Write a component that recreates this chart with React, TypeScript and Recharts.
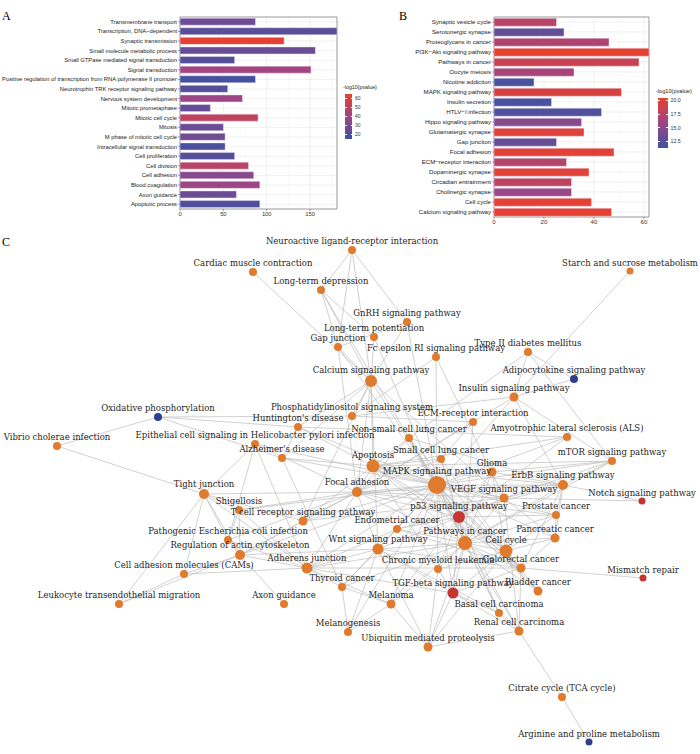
import React from 'react';
import {
  BarChart, Bar, XAxis, YAxis, CartesianGrid, Cell, ReferenceArea,
  ScatterChart, Scatter,
} from 'recharts';

// ---------------- Panel A (GO terms) ----------------
const goTerms = [
  'Transmembrane transport', 'Transcription, DNA\u2212dependent', 'Synaptic transmission',
  'Small molecule metabolic process', 'Small GTPase mediated signal transduction', 'Signal transduction',
  'Positive regulation of transcription from RNA polymerase II promoter', 'Neurotrophin TRK receptor signaling pathway',
  'Nervous system development', 'Mitotic prometaphase', 'Mitotic cell cycle', 'Mitosis',
  'M phase of mitotic cell cycle', 'Intracellular signal transduction', 'Cell proliferation', 'Cell division',
  'Cell adhesion', 'Blood coagulation', 'Axon guidance', 'Apoptotic process',
];
const goCounts = [87, 181, 120, 156, 63, 151, 87, 55, 72, 35, 90, 50, 52, 52, 63, 79, 85, 92, 65, 92];
const goLogP = [27, 22, 63, 26, 21, 42, 17, 21, 40, 25, 51, 27, 28, 18, 21, 49, 34, 40, 27, 20];
const goTicks = [0, 50, 100, 150];
const goMinor = [25, 75, 125, 175];
const goLegendTicks = [60, 50, 40, 30, 20];
const goRange = [14.8, 64.4];

// ---------------- Panel B (KEGG pathways) ----------------
const keggTerms = [
  'Synaptic vesicle cycle', 'Serotonergic synapse', 'Proteoglycans in cancer', 'PI3K\u2212Akt signaling pathway',
  'Pathways in cancer', 'Oocyte meiosis', 'Nicotine addiction', 'MAPK signaling pathway', 'Insulin secretion',
  'HTLV\u2212I infection', 'Hippo signaling pathway', 'Glutamatergic synapse', 'Gap junction', 'Focal adhesion',
  'ECM\u2212receptor interaction', 'Dopaminergic synapse', 'Circadian entrainment', 'Cholinergic synapse',
  'Cell cycle', 'Calcium signaling pathway',
];
const keggCounts = [25, 28, 46, 62, 58, 32, 16, 51, 23, 43, 35, 36, 25, 48, 29, 38, 31, 31, 39, 47];
const keggLogP = [17.5, 13.1, 17.0, 20.4, 18.6, 16.5, 11.8, 19.5, 11.9, 12.2, 14.8, 19.8, 13.3, 20.0, 17.2, 20.0, 17.9, 15.8, 20.2, 20.2];
const keggTicks = [0, 20, 40, 60];
const keggMinor = [10, 30, 50];
const keggLegendTicks = [20.0, 17.5, 15.0, 12.5];
const keggRange = [11.3, 20.4];

// ---------------- Panel C (network) ----------------
// [id, label, layoutX, layoutY, size, group]  group: o = orange, r = red, b = blue
const nodes: [string, string, number, number, number, string][] = [
  ['neuro', 'Neuroactive ligand-receptor interaction', 352, 250, 4, 'o'],
  ['cardiac', 'Cardiac muscle contraction', 253, 272, 4, 'o'],
  ['ltd', 'Long-term depression', 321, 290, 4, 'o'],
  ['gnrh', 'GnRH signaling pathway', 407, 322, 4, 'o'],
  ['ltp', 'Long-term potentiation', 374, 337, 4, 'o'],
  ['gap', 'Gap junction', 338, 347, 4, 'o'],
  ['fceri', 'Fc epsilon RI signaling pathway', 436, 357, 4, 'o'],
  ['calcium', 'Calcium signaling pathway', 371, 381, 6, 'o'],
  ['t2d', 'Type II diabetes mellitus', 528, 352, 4, 'o'],
  ['adipo', 'Adipocytokine signaling pathway', 574, 379, 4, 'b'],
  ['insulin', 'Insulin signaling pathway', 514, 397, 4.5, 'o'],
  ['starch', 'Starch and sucrose metabolism', 630, 271, 3.5, 'o'],
  ['pi', 'Phosphatidylinositol signaling system', 352, 416, 4, 'o'],
  ['oxphos', 'Oxidative phosphorylation', 158, 417, 4, 'b'],
  ['vibrio', 'Vibrio cholerae infection', 57, 446, 4, 'o'],
  ['hunt', "Huntington's disease", 298, 427, 4, 'o'],
  ['epith', 'Epithelial cell signaling in Helicobacter pylori infection', 255, 444, 4, 'o'],
  ['alz', "Alzheimer's disease", 282, 458, 4, 'o'],
  ['tight', 'Tight junction', 204, 494, 5, 'o'],
  ['shig', 'Shigellosis', 239, 510, 4, 'o'],
  ['tcell', 'T cell receptor signaling pathway', 303, 521, 4.5, 'o'],
  ['epec', 'Pathogenic Escherichia coli infection', 228, 540, 4, 'o'],
  ['actin', 'Regulation of actin cytoskeleton', 240, 555, 5, 'o'],
  ['adherens', 'Adherens junction', 307, 568, 5.5, 'o'],
  ['cams', 'Cell adhesion molecules (CAMs)', 184, 574, 4, 'o'],
  ['leuko', 'Leukocyte transendothelial migration', 119, 604, 4, 'o'],
  ['ecm', 'ECM-receptor interaction', 473, 422, 4, 'o'],
  ['als', 'Amyotrophic lateral sclerosis (ALS)', 567, 437, 4, 'o'],
  ['nsclc', 'Non-small cell lung cancer', 409, 438, 4, 'o'],
  ['sclc', 'Small cell lung cancer', 441, 459, 4, 'o'],
  ['apoptosis', 'Apoptosis', 373, 466, 6.5, 'o'],
  ['mtor', 'mTOR signaling pathway', 612, 461, 4, 'o'],
  ['glioma', 'Glioma', 492, 472, 4.5, 'o'],
  ['mapk', 'MAPK signaling pathway', 437, 485, 9, 'o'],
  ['erbb', 'ErbB signaling pathway', 563, 485, 5, 'o'],
  ['focal', 'Focal adhesion', 357, 492, 5, 'o'],
  ['vegf', 'VEGF signaling pathway', 504, 498, 4.5, 'o'],
  ['notch', 'Notch signaling pathway', 642, 501, 3.5, 'r'],
  ['p53', 'p53 signaling pathway', 459, 517, 6, 'r'],
  ['prostate', 'Prostate cancer', 556, 515, 4, 'o'],
  ['endometrial', 'Endometrial cancer', 397, 529, 4, 'o'],
  ['pancreatic', 'Pancreatic cancer', 555, 538, 4.5, 'o'],
  ['pic', 'Pathways in cancer', 465, 543, 7, 'o'],
  ['wnt', 'Wnt signaling pathway', 378, 549, 5.5, 'o'],
  ['cellcycle', 'Cell cycle', 506, 551, 6.5, 'o'],
  ['colorectal', 'Colorectal cancer', 521, 568, 4.5, 'o'],
  ['cml', 'Chronic myeloid leukemia', 438, 569, 4, 'o'],
  ['mismatch', 'Mismatch repair', 643, 578, 3.5, 'r'],
  ['thyroid', 'Thyroid cancer', 342, 587, 4, 'o'],
  ['axon', 'Axon guidance', 284, 604, 4, 'o'],
  ['melanoma', 'Melanoma', 391, 604, 4.5, 'o'],
  ['tgfb', 'TGF-beta signaling pathway', 453, 593, 5.5, 'r'],
  ['bladder', 'Bladder cancer', 538, 591, 4.5, 'o'],
  ['basal', 'Basal cell carcinoma', 499, 613, 4, 'o'],
  ['renal', 'Renal cell carcinoma', 519, 631, 4.5, 'o'],
  ['melanogenesis', 'Melanogenesis', 348, 632, 4, 'o'],
  ['ubiq', 'Ubiquitin mediated proteolysis', 428, 647, 4.5, 'o'],
  ['citrate', 'Citrate cycle (TCA cycle)', 562, 697, 4, 'o'],
  ['arginine', 'Arginine and proline metabolism', 589, 742, 3.5, 'b'],
];

const edges: [string, string][] = [
  ['neuro', 'ltd'], ['neuro', 'gap'], ['neuro', 'calcium'], ['neuro', 'gnrh'],
  ['cardiac', 'calcium'],
  ['ltd', 'calcium'], ['ltd', 'ltp'], ['ltd', 'mapk'], ['ltd', 'gap'],
  ['gnrh', 'calcium'], ['gnrh', 'mapk'], ['gnrh', 'gap'],
  ['ltp', 'calcium'], ['ltp', 'mapk'], ['gap', 'calcium'], ['gap', 'mapk'], ['gap', 'focal'],
  ['fceri', 'mapk'], ['fceri', 'pi'], ['fceri', 'vegf'],
  ['calcium', 'mapk'], ['calcium', 'pi'], ['calcium', 'apoptosis'], ['calcium', 'alz'], ['calcium', 'hunt'],
  ['calcium', 'wnt'], ['calcium', 'vegf'], ['calcium', 'focal'], ['calcium', 'tcell'],
  ['t2d', 'insulin'], ['t2d', 'adipo'], ['t2d', 'nsclc'], ['t2d', 'mtor'],
  ['adipo', 'insulin'], ['starch', 'insulin'],
  ['insulin', 'pi'], ['insulin', 'mtor'], ['insulin', 'mapk'], ['insulin', 'erbb'], ['insulin', 'focal'],
  ['oxphos', 'vibrio'], ['oxphos', 'hunt'], ['oxphos', 'alz'], ['oxphos', 'pi'],
  ['vibrio', 'tight'],
  ['hunt', 'alz'], ['hunt', 'apoptosis'], ['hunt', 'mapk'], ['hunt', 'als'],
  ['epith', 'tight'], ['epith', 'adherens'], ['epith', 'mapk'], ['epith', 'epec'], ['epith', 'focal'],
  ['alz', 'apoptosis'], ['alz', 'mapk'], ['alz', 'thyroid'],
  ['tight', 'shig'], ['tight', 'epec'], ['tight', 'actin'], ['tight', 'cams'], ['tight', 'leuko'],
  ['tight', 'adherens'], ['tight', 'focal'], ['tight', 'tcell'],
  ['shig', 'actin'], ['shig', 'focal'], ['shig', 'mapk'], ['shig', 'epec'], ['shig', 'adherens'],
  ['tcell', 'mapk'], ['tcell', 'actin'], ['tcell', 'apoptosis'], ['tcell', 'vegf'], ['tcell', 'focal'],
  ['epec', 'actin'], ['epec', 'adherens'], ['epec', 'focal'],
  ['actin', 'adherens'], ['actin', 'focal'], ['actin', 'leuko'], ['actin', 'cams'], ['actin', 'axon'],
  ['actin', 'mapk'], ['actin', 'wnt'],
  ['adherens', 'wnt'], ['adherens', 'pic'], ['adherens', 'thyroid'], ['adherens', 'mapk'], ['adherens', 'focal'],
  ['adherens', 'cams'], ['adherens', 'melanoma'], ['adherens', 'colorectal'], ['adherens', 'endometrial'],
  ['cams', 'leuko'],
  ['ecm', 'focal'], ['ecm', 'pic'], ['ecm', 'sclc'], ['ecm', 'pi'],
  ['als', 'apoptosis'], ['als', 'mapk'], ['als', 'p53'],
  ['nsclc', 'mapk'], ['nsclc', 'apoptosis'], ['nsclc', 'erbb'], ['nsclc', 'p53'], ['nsclc', 'pic'],
  ['nsclc', 'focal'], ['nsclc', 'cellcycle'],
  ['sclc', 'pic'], ['sclc', 'apoptosis'], ['sclc', 'focal'], ['sclc', 'p53'], ['sclc', 'cellcycle'],
  ['apoptosis', 'mapk'], ['apoptosis', 'p53'], ['apoptosis', 'pic'], ['apoptosis', 'vegf'], ['apoptosis', 'focal'],
  ['apoptosis', 'erbb'], ['apoptosis', 'colorectal'], ['apoptosis', 'cml'], ['apoptosis', 'mtor'],
  ['mtor', 'erbb'], ['mtor', 'vegf'], ['mtor', 'mapk'], ['mtor', 'glioma'], ['mtor', 'pic'],
  ['glioma', 'mapk'], ['glioma', 'p53'], ['glioma', 'pic'], ['glioma', 'erbb'], ['glioma', 'cellcycle'],
  ['mapk', 'erbb'], ['mapk', 'vegf'], ['mapk', 'p53'], ['mapk', 'pic'], ['mapk', 'wnt'], ['mapk', 'focal'],
  ['mapk', 'endometrial'], ['mapk', 'prostate'], ['mapk', 'pancreatic'], ['mapk', 'colorectal'], ['mapk', 'cml'],
  ['mapk', 'melanoma'], ['mapk', 'tgfb'], ['mapk', 'renal'], ['mapk', 'bladder'], ['mapk', 'thyroid'],
  ['mapk', 'melanogenesis'], ['mapk', 'cellcycle'], ['mapk', 'basal'],
  ['erbb', 'vegf'], ['erbb', 'pic'], ['erbb', 'prostate'], ['erbb', 'pancreatic'], ['erbb', 'focal'],
  ['erbb', 'endometrial'], ['erbb', 'colorectal'], ['erbb', 'notch'],
  ['focal', 'wnt'], ['focal', 'pic'], ['focal', 'vegf'], ['focal', 'p53'], ['focal', 'prostate'],
  ['vegf', 'pic'], ['vegf', 'pancreatic'], ['vegf', 'p53'], ['vegf', 'renal'], ['vegf', 'notch'],
  ['p53', 'pic'], ['p53', 'cellcycle'], ['p53', 'colorectal'], ['p53', 'cml'], ['p53', 'bladder'],
  ['p53', 'basal'], ['p53', 'prostate'], ['p53', 'melanoma'], ['p53', 'endometrial'], ['p53', 'wnt'], ['p53', 'tgfb'],
  ['prostate', 'pic'], ['prostate', 'cellcycle'], ['prostate', 'pancreatic'],
  ['endometrial', 'pic'], ['endometrial', 'wnt'], ['endometrial', 'colorectal'],
  ['pancreatic', 'pic'], ['pancreatic', 'cellcycle'], ['pancreatic', 'colorectal'],
  ['pic', 'wnt'], ['pic', 'cellcycle'], ['pic', 'colorectal'], ['pic', 'cml'], ['pic', 'melanoma'], ['pic', 'tgfb'],
  ['pic', 'bladder'], ['pic', 'basal'], ['pic', 'renal'], ['pic', 'thyroid'], ['pic', 'ubiq'],
  ['wnt', 'melanogenesis'], ['wnt', 'basal'], ['wnt', 'tgfb'], ['wnt', 'colorectal'], ['wnt', 'ubiq'], ['wnt', 'thyroid'],
  ['cellcycle', 'colorectal'], ['cellcycle', 'bladder'], ['cellcycle', 'cml'], ['cellcycle', 'tgfb'], ['cellcycle', 'ubiq'],
  ['colorectal', 'tgfb'], ['colorectal', 'mismatch'], ['colorectal', 'renal'],
  ['cml', 'tgfb'], ['cml', 'ubiq'], ['thyroid', 'melanoma'],
  ['melanoma', 'melanogenesis'], ['melanoma', 'ubiq'],
  ['tgfb', 'basal'], ['tgfb', 'ubiq'], ['tgfb', 'renal'], ['tgfb', 'adherens'],
  ['renal', 'citrate'], ['renal', 'ubiq'], ['citrate', 'arginine'],
  ['melanogenesis', 'thyroid'], ['basal', 'renal'],
];

// ---------------- helpers ----------------
const LOW = [61, 82, 161];
const MID = [156, 70, 134];
const HIGH = [232, 64, 47];
const GROUP_COLORS: Record<string, string> = { o: '#E07B2D', r: '#C6352F', b: '#2F3E8E' };

function mix(a: number[], b: number[], t: number) {
  const c = a.map((v, i) => Math.round(v + (b[i] - v) * t));
  return `rgb(${c[0]},${c[1]},${c[2]})`;
}
function colorFor(v: number, range: number[]) {
  let t = (v - range[0]) / (range[1] - range[0]);
  t = Math.max(0, Math.min(1, t));
  return t < 0.5 ? mix(LOW, MID, t * 2) : mix(MID, HIGH, (t - 0.5) * 2);
}

const SANS = 'Liberation Sans, Arial, sans-serif';
const SERIF = 'DejaVu Serif, serif';

function buildBars(terms: string[], counts: number[], logp: number[]) {
  return terms.map((name, i) => ({ name, value: counts[i], logp: logp[i] }));
}
const goData = buildBars(goTerms, goCounts, goLogP);
const keggData = buildBars(keggTerms, keggCounts, keggLogP);

const nodeData = nodes.map(([id, label, x, y, r, g]) => ({ id, label, x, y, r, g }));
const nodeById: Record<string, { x: number; y: number }> = {};
nodeData.forEach((n) => { nodeById[n.id] = n; });

function ColorLegend({ left, top, width, height, range, ticks, decimals, fontSize }: any) {
  const pos = (v: number) => ((range[1] - v) / (range[1] - range[0])) * height;
  const gradient = `linear-gradient(to top, rgb(${LOW.join(',')}), rgb(${MID.join(',')}), rgb(${HIGH.join(',')}))`;
  return (
    <div style={{ position: 'absolute', left, top, fontFamily: SANS, color: '#222' }}>
      <div style={{ position: 'absolute', left: -2, top: -10, fontSize: fontSize + 0.3, whiteSpace: 'nowrap' }}>-log10(pvalue)</div>
      <div style={{ position: 'absolute', left: 0, top: 0, width, height, background: gradient }} />
      {ticks.map((t: number) => (
        <React.Fragment key={t}>
          <div style={{ position: 'absolute', left: 0, top: pos(t) - 0.3, width: 1.5, height: 0.6, background: '#fff' }} />
          <div style={{ position: 'absolute', left: width - 1.5, top: pos(t) - 0.3, width: 1.5, height: 0.6, background: '#fff' }} />
          <div style={{ position: 'absolute', left: width + 3, top: pos(t) - fontSize * 0.6, fontSize, lineHeight: `${fontSize * 1.2}px`, color: '#333', whiteSpace: 'nowrap' }}>
            {t.toFixed(decimals)}
          </div>
        </React.Fragment>
      ))}
    </div>
  );
}

const makeCategoryTick = (fontSize: number) => (props: any) => (
  <text
    x={props.x}
    y={props.y}
    dy="0.35em"
    textAnchor="end"
    fontSize={fontSize}
    fontFamily={SANS}
    fill="#1a1a1a"
  >
    {props.payload.value}
  </text>
);

function HBarChart({ data, width, height, yWidth, domain, ticks, minor, range, margin, fontSize }: any) {
  return (
    <BarChart
      width={width}
      height={height}
      data={data}
      layout="vertical"
      margin={margin}
      barCategoryGap="12%"
    >
      <CartesianGrid stroke="#f1f1f1" strokeWidth={0.5} horizontal={false} verticalValues={minor} />
      <CartesianGrid stroke="#e6e6e6" strokeWidth={0.6} />
      <XAxis
        type="number"
        domain={domain}
        ticks={ticks}
        allowDataOverflow
        height={12}
        tickSize={2}
        axisLine={false}
        tickLine={{ stroke: '#444', strokeWidth: 0.5 }}
        tick={{ fontSize, fill: '#333', fontFamily: SANS }}
        tickMargin={1}
      />
      <YAxis
        type="category"
        dataKey="name"
        width={yWidth}
        interval={0}
        tickSize={2}
        axisLine={false}
        tickLine={{ stroke: '#444', strokeWidth: 0.5 }}
        tick={makeCategoryTick(fontSize)}
        tickMargin={1}
      />
      <Bar dataKey="value" isAnimationActive={false} stroke="#e4dcf0" strokeWidth={0.5}>
        {data.map((d: any, i: number) => (
          <Cell key={i} fill={colorFor(d.logp, range)} />
        ))}
      </Bar>
      <ReferenceArea x1={domain[0]} x2={domain[1]} fill="none" stroke="#8a8a8a" strokeWidth={0.8} ifOverflow="visible" />
    </BarChart>
  );
}

const NodeShape = (p: any) => (
  <circle cx={p.cx} cy={p.cy} r={p.payload.r} fill={GROUP_COLORS[p.payload.g]} />
);
const LabelShape = (p: any) => (
  <text
    x={p.cx}
    y={p.cy - p.payload.r - 2}
    textAnchor="middle"
    fontSize={8.5}
    fontFamily={SERIF}
    fill="#1e1e1e"
  >
    {p.payload.label}
  </text>
);
const NoShape = () => <g />;

export default function App() {
  return (
    <div style={{ position: 'absolute', left: 0, top: 0, width: 700, height: 754, background: '#fff', overflow: 'hidden' }}>
      <div style={{ position: 'absolute', left: 2, top: 9, fontFamily: 'Liberation Serif, serif', fontSize: 12 }}>A</div>
      <div style={{ position: 'absolute', left: 399, top: 9, fontFamily: 'Liberation Serif, serif', fontSize: 12 }}>B</div>
      <div style={{ position: 'absolute', left: 2, top: 235, fontFamily: 'Liberation Serif, serif', fontSize: 12 }}>C</div>

      <div style={{ position: 'absolute', left: 0, top: 0 }}>
        <HBarChart
          data={goData}
          width={340}
          height={225}
          yWidth={180}
          domain={[0, 181]}
          ticks={goTicks}
          minor={goMinor}
          range={goRange}
          fontSize={5.8}
          margin={{ top: 17, right: 3, bottom: 4, left: 0 }}
        />
      </div>
      <ColorLegend left={345} top={94.3} width={7} height={44.7} range={goRange} ticks={goLegendTicks} decimals={0} fontSize={5} />

      <div style={{ position: 'absolute', left: 350, top: 0 }}>
        <HBarChart
          data={keggData}
          width={305}
          height={232}
          yWidth={144}
          domain={[0, 62]}
          ticks={keggTicks}
          minor={keggMinor}
          range={keggRange}
          fontSize={6.1}
          margin={{ top: 17, right: 6, bottom: 3, left: 0 }}
        />
      </div>
      <ColorLegend left={658} top={97.7} width={9.5} height={50.6} range={keggRange} ticks={keggLegendTicks} decimals={1} fontSize={5.3} />

      <div style={{ position: 'absolute', left: 0, top: 230 }}>
        <ScatterChart width={700} height={524} margin={{ top: 0, right: 0, bottom: 0, left: 0 }}>
          <XAxis type="number" dataKey="x" domain={[0, 700]} hide allowDataOverflow />
          <YAxis type="number" dataKey="y" domain={[230, 754]} reversed hide allowDataOverflow />
          {edges.map(([a, b], i) => (
            <Scatter
              key={`e${i}`}
              data={[nodeById[a], nodeById[b]]}
              line={{ stroke: '#bdbdbd', strokeWidth: 0.7 }}
              shape={NoShape}
              isAnimationActive={false}
            />
          ))}
          <Scatter data={nodeData} shape={NodeShape} isAnimationActive={false} />
          <Scatter data={nodeData} shape={LabelShape} isAnimationActive={false} />
        </ScatterChart>
      </div>
    </div>
  );
}
